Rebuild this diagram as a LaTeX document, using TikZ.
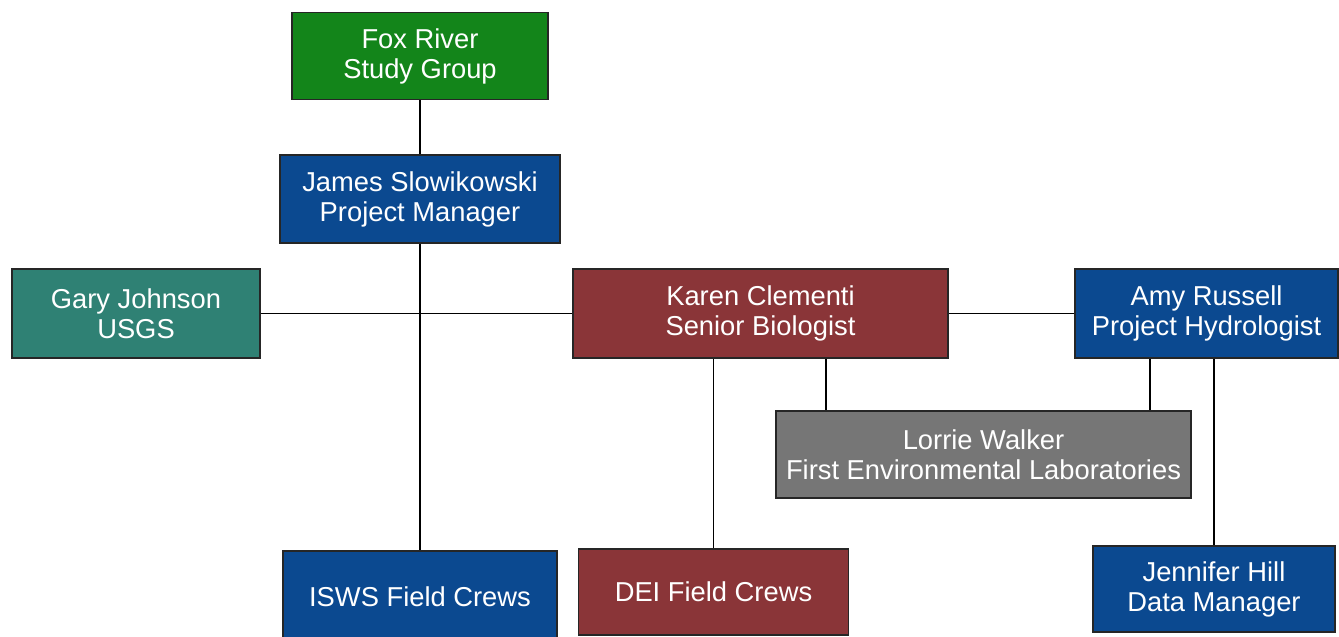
\documentclass[tikz,border=0pt]{standalone}
\usepackage{fontspec}
\setmainfont{Liberation Sans}
\usepackage{xcolor}
\usepackage{tikz}
\usetikzlibrary{positioning, calc}
\definecolor{frgreen}{HTML}{13851A}
\definecolor{frblue}{HTML}{0B4990}
\definecolor{frteal}{HTML}{2F8174}
\definecolor{frred}{HTML}{8A3538}
\definecolor{frgray}{HTML}{767676}
\tikzset{
  box/.style  ={draw=black!85, line width=1.2pt, text=white, align=center,
                inner sep=2pt, font=\fontsize{20.5}{22.5}\selectfont},
  sz/.style 2 args={minimum width=#1*0.75pt, minimum height=#2*0.75pt},
  link/.style ={line width=1.4pt, black},
}

\begin{document}
\begin{tikzpicture}[x=0.75pt, y=-0.75pt]
  \useasboundingbox[fill=white] (0,0) rectangle (1339,636);
  \node[box, fill=frgreen, sz={256}{87}] (FRSG) at (420,56)      {Fox River\\Study Group};
  \node[box, fill=frblue,  sz={280}{88}] (PM)   at (420,199)     {James Slowikowski\\Project Manager};
  \node[box, fill=frteal,  sz={248}{89}] (USGS) at (136,313.5)   {Gary Johnson\\USGS};
  \node[box, fill=frred,   sz={375}{89}] (BIO)  at (760.5,313.5) {Karen Clementi\\Senior Biologist};
  \node[box, fill=frblue,  sz={263}{89}] (HYD)  at (1206.5,313.5){Amy Russell\\Project Hydrologist};
  \node[box, fill=frgray,  sz={415}{87}] (LAB)  at (983.5,454.5) {Lorrie Walker\\First Environmental Laboratories};
  \node[box, fill=frblue,  sz={274}{92}] (ISWS) at (420,597)     {ISWS Field Crews};
  \node[box, fill=frred,   sz={270}{86}] (DEI)  at (713.5,592)   {DEI Field Crews};
  \node[box, fill=frblue,  sz={242}{86}] (DM)   at (1214,589)    {Jennifer Hill\\Data Manager};
  \coordinate (L1) at (826,0);
  \coordinate (L2) at (1150,0);
  \draw[link] (FRSG) -- (PM);
  \draw[link] (PM)   -- (ISWS);
  \draw[link] (USGS) -- (BIO);
  \draw[link] (BIO)  -- (HYD);
  \draw[link] (DEI)  -- (DEI |- BIO.south);
  \draw[link] (L1 |- BIO.south) -- (L1 |- LAB.north);
  \draw[link] (L2 |- HYD.south) -- (L2 |- LAB.north);
  \draw[link] (DM)   -- (DM |- HYD.south);
\end{tikzpicture}
\end{document}
